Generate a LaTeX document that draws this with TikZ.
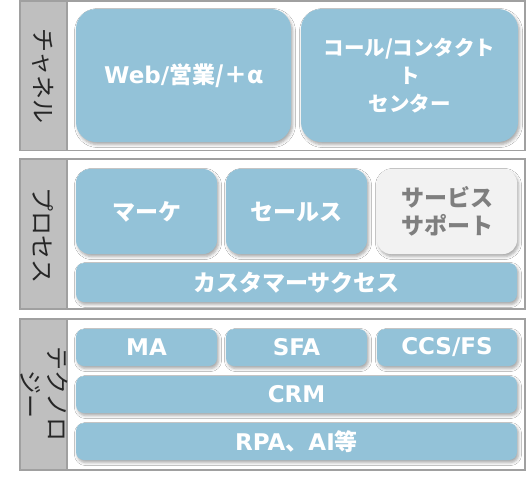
\documentclass[tikz,border=0pt]{standalone}
\usepackage{fontspec}
\newfontfamily\jp{Noto Sans CJK JP}
\newfontfamily\lat{DejaVu Sans}
\usetikzlibrary{shadows.blur}
\definecolor{boxblue}{RGB}{147,194,216}
\definecolor{framegray}{RGB}{160,160,160}
\definecolor{stripgray}{RGB}{191,191,191}
\definecolor{lightbox}{RGB}{242,242,242}
\definecolor{graytext}{RGB}{127,127,127}
\tikzset{
  panel/.style={draw=framegray, line width=1.2pt, fill=white},
  strip/.style={draw=framegray, line width=1.2pt, fill=stripgray},
  striplabel/.style={rotate=-90, font=\jp\fontsize{24}{27}\selectfont, text=black!85, align=center, inner sep=0pt},
  bbox/.style={fill=boxblue, rounded corners=#1, text=white, align=center, inner sep=0pt,
    font=\jp\bfseries\fontsize{23}{28}\selectfont,
    blur shadow={shadow xshift=1.5pt, shadow yshift=-2.5pt, shadow blur radius=3pt, shadow opacity=35}},
  gbox/.style={bbox=#1, fill=lightbox, text=graytext}
}
\newcommand{\La}[1]{{\lat\bfseries #1}}
\begin{document}
\begin{tikzpicture}[x=1pt,y=-1pt]
\useasboundingbox (0,0) rectangle (528,480);
% panels
\draw[panel] (20,1) rectangle (525,150.5);
\draw[strip] (20,1) rectangle (67,150.5);
\draw[panel] (20,159) rectangle (525,309);
\draw[strip] (20,159) rectangle (67,309);
\draw[panel] (20,319) rectangle (525,470);
\draw[strip] (20,319) rectangle (67,470);
\node[striplabel] (l1) at (43.5,76) {チャネル};
\node[striplabel] (l2) at (43.5,235) {プロセス};
\node[striplabel] (l3) at (44,394) {テクノロ\\ジー};
% channel
\node[bbox=20pt, minimum width=215pt, minimum height=133pt] (web) at (183.5,75.5) {\La{Web/}営業/＋α};
\node[bbox=20pt, minimum width=217pt, minimum height=133pt, font=\jp\bfseries\fontsize{20.5}{28}\selectfont] (call) at (409.5,75.5) {コール/コンタクト\\ト\\センター};
% process
\node[bbox=14pt, minimum width=141pt, minimum height=85pt] (mk) at (146.5,211.5) {マーケ};
\node[bbox=14pt, minimum width=141pt, minimum height=85pt] (sl) at (296.5,211.5) {セールス};
\node[gbox=14pt, minimum width=140pt, minimum height=85pt] (ss) at (447,211.5) {サービス\\サポート};
\node[bbox=8pt, minimum width=441pt, minimum height=39pt] (cs) at (296.5,282.5) {カスタマーサクセス};
% technology
\node[bbox=8pt, minimum width=141pt, minimum height=37pt] (ma) at (146.5,347.5) {\La{MA}};
\node[bbox=8pt, minimum width=141pt, minimum height=37pt] (sfa) at (296.5,347.5) {\La{SFA}};
\node[bbox=8pt, minimum width=140pt, minimum height=37pt] (ccs) at (447,347.5) {\La{CCS/FS}};
\node[bbox=8pt, minimum width=441pt, minimum height=37pt] (crm) at (296.5,394.5) {\La{CRM}};
\node[bbox=8pt, minimum width=441pt, minimum height=37pt] (rpa) at (296.5,441.5) {\La{RPA}、\La{AI}等};
\end{tikzpicture}
\end{document}
